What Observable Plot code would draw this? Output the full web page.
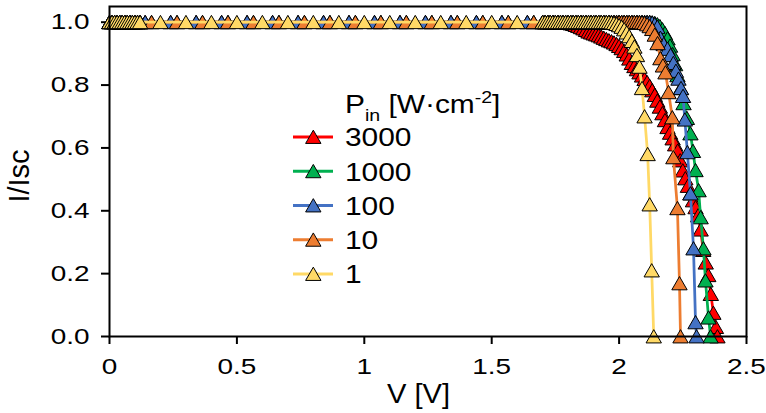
<!DOCTYPE html>
<html>
<head>
<meta charset="utf-8">
<script src="https://cdn.jsdelivr.net/npm/d3@7"></script>
<script src="https://cdn.jsdelivr.net/npm/@observablehq/plot@0.6"></script>
<style>
  body { margin: 0; background: #fff; }
  svg { display: block; }
</style>
</head>
<body>
<div id="chart"></div>
<script>
// ---------- data: [V (V), I/Isc] ----------
const s3000 = [
  [0,1],[0.01,1],[0.02,1],[0.03,1],[0.04,1],[0.05,1],[0.06,1],[0.07,1],[0.08,1],[0.09,1],[0.1,1],[0.11,1],[0.12,1],
  [0.14,1],[0.24,1],[0.34,1],[0.44,1],[0.54,1],[0.64,1],[0.74,1],[0.84,1],[0.94,1],[1.04,1],[1.14,1],[1.24,1],[1.34,1],[1.44,1],[1.54,1],[1.64,1],
  [1.7,1],[1.71,1],[1.72,1],[1.73,1],[1.74,1],[1.75,1],[1.76,1],[1.77,1],[1.78,1],[1.79,0.999],
  [1.8,0.998],[1.81,0.996],[1.82,0.994],[1.83,0.991],[1.84,0.988],[1.85,0.984],[1.86,0.98],[1.87,0.975],[1.88,0.97],[1.89,0.967],
  [1.9,0.964],[1.91,0.961],[1.92,0.958],[1.93,0.954],[1.94,0.95],[1.95,0.946],[1.96,0.942],[1.97,0.939],[1.98,0.935],[1.99,0.93],
  [2,0.924],[2.01,0.917],[2.02,0.908],[2.03,0.897],[2.04,0.884],[2.05,0.87],[2.06,0.86],[2.07,0.85],[2.08,0.84],[2.09,0.83],
  [2.1,0.819],[2.11,0.809],[2.12,0.797],[2.13,0.783],[2.14,0.768],[2.15,0.75],[2.16,0.731],[2.17,0.71],[2.18,0.688],[2.19,0.666],
  [2.2,0.648],[2.21,0.63],[2.22,0.611],[2.23,0.591],[2.24,0.56],[2.25,0.528],[2.26,0.503],[2.27,0.479],[2.28,0.455],[2.29,0.433],
  [2.3,0.411],[2.31,0.385],[2.32,0.34],[2.33,0.275],[2.34,0.235],[2.35,0.195],[2.36,0.135],[2.37,0.075],[2.38,0.03],[2.386,0]
];
const s1000 = [
  [0,1],[0.01,1],[0.02,1],[0.03,1],[0.04,1],[0.05,1],[0.06,1],[0.07,1],[0.08,1],[0.09,1],[0.1,1],[0.11,1],[0.12,1],
  [0.165,1],[0.265,1],[0.365,1],[0.465,1],[0.565,1],[0.665,1],[0.765,1],[0.865,1],[0.965,1],[1.065,1],[1.165,1],[1.265,1],[1.365,1],[1.465,1],[1.565,1],[1.665,1],
  [1.7,1],[1.71,1],[1.72,1],[1.73,1],[1.74,1],[1.75,1],[1.76,1],[1.77,1],[1.78,1],[1.79,1],
  [1.8,1],[1.81,1],[1.82,1],[1.83,1],[1.84,1],[1.85,1],[1.86,1],[1.87,1],[1.88,1],[1.89,1],
  [1.9,1],[1.91,1],[1.92,1],[1.93,1],[1.94,1],[1.95,1],[1.96,1],[1.97,1],[1.98,1],[1.99,1],
  [2,1],[2.01,1],[2.02,1],[2.03,1],[2.04,1],[2.05,1],[2.06,1],[2.07,1],[2.08,1],[2.09,1],
  [2.1,1],[2.11,1],[2.12,1],[2.13,0.999],[2.14,0.997],[2.15,0.993],[2.16,0.987],[2.17,0.977],[2.18,0.965],[2.19,0.948],
  [2.2,0.925],[2.21,0.898],[2.22,0.866],[2.229,0.831],[2.242,0.79],[2.253,0.742],[2.266,0.695],[2.28,0.646],[2.29,0.59],
  [2.3,0.529],[2.312,0.465],[2.32,0.379],[2.331,0.28],[2.339,0.178],[2.351,0.06],[2.359,0]
];
const s100 = [
  [0,1],[0.01,1],[0.02,1],[0.03,1],[0.04,1],[0.05,1],[0.06,1],[0.07,1],[0.08,1],[0.09,1],[0.1,1],[0.11,1],[0.12,1],
  [0.14,1],[0.24,1],[0.34,1],[0.44,1],[0.54,1],[0.64,1],[0.74,1],[0.84,1],[0.94,1],[1.04,1],[1.14,1],[1.24,1],[1.34,1],[1.44,1],[1.54,1],[1.64,1],
  [1.7,1],[1.71,1],[1.72,1],[1.73,1],[1.74,1],[1.75,1],[1.76,1],[1.77,1],[1.78,1],[1.79,1],
  [1.8,1],[1.81,1],[1.82,1],[1.83,1],[1.84,1],[1.85,1],[1.86,1],[1.87,1],[1.88,1],[1.89,1],
  [1.9,1],[1.91,1],[1.92,1],[1.93,1],[1.94,1],[1.95,1],[1.96,1],[1.97,1],[1.98,1],[1.99,1],
  [2,1],[2.01,1],[2.02,1],[2.03,1],[2.04,1],[2.05,1],[2.06,1],[2.07,1],[2.08,1],[2.09,1],
  [2.1,1],[2.11,1],[2.12,1],[2.13,0.998],[2.14,0.993],[2.15,0.985],[2.162,0.95],[2.175,0.93],[2.19,0.915],
  [2.202,0.895],[2.213,0.87],[2.223,0.845],[2.233,0.82],[2.243,0.79],[2.251,0.765],[2.258,0.69],[2.268,0.586],
  [2.28,0.455],[2.292,0.28],[2.3,0.045],[2.304,0]
];
const s10 = [
  [0,1],[0.01,1],[0.02,1],[0.03,1],[0.04,1],[0.05,1],[0.06,1],[0.07,1],[0.08,1],[0.09,1],[0.1,1],[0.11,1],[0.12,1],
  [0.165,1],[0.265,1],[0.365,1],[0.465,1],[0.565,1],[0.665,1],[0.765,1],[0.865,1],[0.965,1],[1.065,1],[1.165,1],[1.265,1],[1.365,1],[1.465,1],[1.565,1],[1.665,1],
  [1.7,1],[1.71,1],[1.72,1],[1.73,1],[1.74,1],[1.75,1],[1.76,1],[1.77,1],[1.78,1],[1.79,1],
  [1.8,1],[1.81,1],[1.82,1],[1.83,1],[1.84,1],[1.85,1],[1.86,1],[1.87,1],[1.88,1],[1.89,1],
  [1.9,1],[1.91,1],[1.92,1],[1.93,1],[1.94,1],[1.95,1],[1.96,1],[1.97,1],[1.98,1],[1.99,1],
  [2,1],[2.01,1],[2.02,1],[2.03,1],[2.04,1],[2.05,1],[2.06,1],[2.07,1],[2.08,1],[2.09,0.999],
  [2.1,0.997],[2.11,0.993],[2.12,0.987],[2.13,0.978],[2.14,0.96],[2.151,0.933],[2.162,0.885],[2.172,0.862],
  [2.182,0.84],[2.194,0.777],[2.209,0.697],[2.213,0.57],[2.229,0.408],[2.237,0.169],[2.241,0]
];
const s1 = [
  [0,1],[0.01,1],[0.02,1],[0.03,1],[0.04,1],[0.05,1],[0.06,1],[0.07,1],[0.08,1],[0.09,1],[0.1,1],[0.11,1],[0.12,1],
  [0.2,1],[0.3,1],[0.4,1],[0.5,1],[0.6,1],[0.7,1],[0.8,1],[0.9,1],[1,1],[1.1,1],[1.2,1],[1.3,1],[1.4,1],[1.5,1],[1.6,1],
  [1.7,1],[1.71,1],[1.72,1],[1.73,1],[1.74,1],[1.75,1],[1.76,1],[1.77,1],[1.78,1],[1.79,1],
  [1.8,1],[1.81,1],[1.82,1],[1.83,1],[1.84,1],[1.85,1],[1.86,1],[1.87,1],[1.88,1],[1.89,1],
  [1.9,1],[1.91,1],[1.92,1],[1.93,1],[1.94,1],[1.95,1],[1.96,1],[1.97,0.999],[1.98,0.997],[1.99,0.994],
  [2,0.99],[2.01,0.985],[2.02,0.977],[2.03,0.967],[2.04,0.955],[2.05,0.94],[2.06,0.922],[2.07,0.895],
  [2.08,0.858],[2.09,0.79],[2.1,0.7],[2.112,0.58],[2.12,0.42],[2.128,0.21],[2.136,0]
];

const seriesNames  = ["3000", "1000", "100", "10", "1"];
const seriesColors = ["#FF0000", "#00B050", "#4472C4", "#ED7D31", "#FFD966"];
const seriesData   = [s3000, s1000, s100, s10, s1];

const xTicks = [0, 0.5, 1, 1.5, 2, 2.5];
const yTicks = [0, 0.2, 0.4, 0.6, 0.8, 1.0];

const FONT = "'Liberation Sans', Arial, Helvetica, sans-serif";
const R = 5.7;

const marks = [];
seriesData.forEach((data, i) => {
  marks.push(Plot.line(data, {x: d => d[0], y: d => d[1], stroke: seriesColors[i], strokeWidth: 2.75}));
  marks.push(Plot.dot(data, {x: d => d[0], y: d => d[1], symbol: "triangle", r: R,
    fill: seriesColors[i], stroke: "black", strokeWidth: 1, dy: 2}));
});
marks.push(Plot.frame({stroke: "black", strokeWidth: 2}));

const svg = Plot.plot({
  width: 766, height: 413,
  marginLeft: 109, marginRight: 20, marginTop: 6, marginBottom: 77,
  style: {fontFamily: FONT, fontSize: "22px", background: "white", color: "black", overflow: "visible"},
  x: {domain: [0, 2.5], ticks: xTicks, tickSize: 8, tickPadding: 14, tickFormat: d => String(d), label: null},
  y: {domain: [0, 1.05], ticks: yTicks, tickSize: 8, tickPadding: 12, tickFormat: d3.format(".1f"), label: null},
  marks
});
document.getElementById("chart").appendChild(svg);

// stretch tick labels horizontally to match reference glyph proportions
function stretchText(el, s) {
  const xa = parseFloat(el.getAttribute("x")) || 0;
  const t = el.getAttribute("transform") || "";
  el.setAttribute("transform", `${t} translate(${xa},0) scale(${s},1) translate(${-xa},0)`);
}
d3.select(svg).selectAll('g[aria-label$="-axis tick label"] text, g[aria-label$="-axis"] .tick text')
  .each(function() { stretchText(this, 1.27); });
d3.select(svg).selectAll('g[aria-label$="-axis tick"], g[aria-label$="-axis"] .tick line')
  .attr("stroke-width", 2);

const root = d3.select(svg);

// axis titles
root.append("text")
  .attr("transform", "translate(418.5,402.7) scale(1.04,1)")
  .attr("text-anchor", "middle").attr("font-family", FONT).attr("font-size", 28).attr("fill", "black")
  .text("V [V]");
root.append("text")
  .attr("transform", "translate(29,176) rotate(-90)")
  .attr("text-anchor", "middle").attr("font-family", FONT).attr("font-size", 29).attr("fill", "black")
  .text("I/Isc");

// legend
const leg = root.append("g").attr("font-family", FONT).attr("fill", "black").attr("text-anchor", "start");
const title = leg.append("text")
  .attr("transform", "translate(345,113.3) scale(1.15,1)")
  .attr("text-anchor", "start")
  .attr("font-size", 26);
title.append("tspan").text("P");
title.append("tspan").attr("font-size", 17).attr("dy", 8).text("in");
title.append("tspan").attr("dy", -8).text(" [W·cm");
title.append("tspan").attr("font-size", 17).attr("dy", -10).text("-2");
title.append("tspan").attr("dy", 10).text("]");

const tri = d3.symbol(d3.symbolTriangle, R * R * Math.PI)();
const rowY = [137, 171.3, 205.5, 239.8, 274];
seriesNames.forEach((name, i) => {
  const cy = rowY[i];
  leg.append("line").attr("x1", 293).attr("x2", 333).attr("y1", cy).attr("y2", cy)
    .attr("stroke", seriesColors[i]).attr("stroke-width", 3);
  leg.append("path").attr("d", tri).attr("transform", `translate(313.3,${cy + 2})`)
    .attr("fill", seriesColors[i]).attr("stroke", "black").attr("stroke-width", 1);
  leg.append("text").attr("transform", `translate(345,${cy + 9.4}) scale(1.15,1)`)
    .attr("text-anchor", "start")
    .attr("font-size", 26).text(name);
});
</script>
</body>
</html>
